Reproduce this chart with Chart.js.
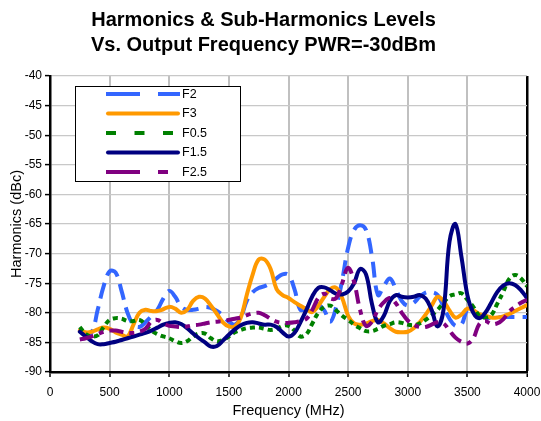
<!DOCTYPE html>
<html>
<head>
<meta charset="utf-8">
<script src="https://cdn.jsdelivr.net/npm/chart.js@4.4.1/dist/chart.umd.min.js"></script>
<style>
  html, body { margin: 0; padding: 0; background: #fff; }
  #wrap { width: 541px; height: 421px; position: relative; }
</style>
</head>
<body>
<div id="wrap"><canvas id="chartHarm"></canvas></div>
<script>
// frequency points (MHz)
const FREQ = [
  250,300,350,400,450,500,550,600,650,700,
  750,800,850,900,950,1000,1050,1100,1150,1200,
  1250,1300,1350,1400,1450,1500,1550,1600,1650,1700,
  1750,1800,1850,1900,1950,2000,2050,2100,2150,2200,
  2250,2300,2350,2400,2450,2500,2550,2600,2650,2700,
  2750,2800,2850,2900,2950,3000,3050,3100,3150,3200,
  3250,3300,3350,3400,3450,3500,3550,3600,3650,3700,
  3750,3800,3850,3900,3950,4000
];

// levels in dBc
const F2 = [
  -83,-83.5,-83.3,-79.5,-75.5,-73,-73.2,-76.3,-80,-82,
  -82.4,-81.6,-80.6,-79.5,-77.6,-76.3,-77.3,-79,-79.5,-79.5,
  -79.3,-79,-79.2,-79.7,-80.5,-81.5,-82,-80.8,-78,-76.5,
  -75.8,-75.5,-75,-74.2,-73.5,-73.6,-76,-79.5,-79.2,-78.5,
  -78.6,-79.6,-81.5,-79,-74.5,-69,-66,-65.2,-66,-70.5,
  -77,-75.5,-74.2,-76,-78,-78.8,-78.3,-77.3,-76.6,-76.5,
  -77,-79,-81,-82.2,-82,-79.5,-80,-80.5,-80.8,-80.9,
  -80.8,-80.7,-80.7,-80.7,-80.7,-80.7
];
const F3 = [
  -83,-83.3,-83.2,-82.8,-82.5,-82.7,-83.3,-83.7,-84,-82,
  -80,-79.5,-79.7,-79.7,-79.4,-79,-79.3,-80,-79.5,-78,
  -77.3,-77.6,-78.8,-80.2,-81.6,-82.3,-82.3,-80.8,-77,-73.5,
  -71,-71,-72.6,-76,-77,-77.5,-78.2,-78.8,-79.4,-79.9,
  -78.8,-77.3,-76,-75.8,-77.5,-80.5,-81.8,-82,-81.8,-81.4,
  -81.2,-81.8,-82.6,-83.2,-83.3,-83.2,-82.6,-81.6,-80.3,-78.8,
  -77.3,-78,-79.6,-80.8,-80.3,-79.3,-79.6,-80.2,-80.5,-80.8,
  -80.8,-80.6,-80.2,-79.7,-79.2,-78.7
];
const F05 = [
  -82.4,-83.6,-84,-83.8,-82.4,-81.2,-80.9,-81,-81.4,-81.4,
  -81.2,-82,-83,-83.6,-84,-84.3,-84.8,-85.1,-84.8,-84,
  -83.5,-83.5,-84.3,-84.8,-84.6,-84,-83.3,-82.9,-82.6,-82.5,
  -82.5,-82.7,-82.9,-82.7,-82.2,-82.2,-83,-84,-83.6,-81.8,
  -80,-79,-78.8,-79.6,-80.5,-81.2,-82,-82.6,-83.1,-83.1,
  -82.7,-82.2,-81.9,-81.6,-81.7,-82,-82.1,-81.8,-81.2,-80.4,
  -79.5,-78.3,-77.2,-76.9,-76.7,-77.8,-79,-80.5,-80.8,-80.4,
  -78.5,-76.5,-74.3,-73.6,-74.2,-75.5
];
const F15 = [
  -83.2,-84,-84.8,-85.3,-85.3,-85.1,-84.9,-84.6,-84.3,-84,
  -83.7,-83.4,-83,-82.5,-82,-81.7,-81.6,-81.9,-82.6,-83.5,
  -84.3,-85,-85.7,-85.6,-84.7,-83.7,-82.8,-82.1,-81.7,-81.6,
  -81.8,-82,-82,-82.4,-83.3,-84,-83.4,-81.6,-79.5,-77.2,
  -75.8,-75.7,-76.2,-76.8,-76.9,-76.4,-75,-72.6,-73.5,-78.5,
  -81.6,-80.5,-78,-77,-77.3,-77.4,-77.3,-77,-77.6,-79.5,
  -82.3,-79.5,-68,-65,-70.5,-77,-80,-80.9,-80,-78.3,
  -76.5,-75.4,-75,-75.3,-76.2,-77.5
];
const F25 = [
  -84.5,-84.3,-84,-83.6,-83.2,-83,-83,-83.2,-83.4,-83.4,
  -83.2,-82.7,-81.5,-81.2,-81.8,-82.2,-82.3,-82.4,-82.3,-82.1,
  -82,-81.8,-81.6,-81.5,-81.4,-81.2,-81,-80.8,-80.4,-80.1,
  -80,-80.4,-81,-81.5,-81.7,-81.7,-81.6,-81.4,-81,-79.5,
  -77.5,-76.8,-77.6,-77.5,-75,-72.4,-74.8,-79.5,-82.2,-81.5,
  -79.5,-78.2,-77.5,-78.4,-80,-81.3,-82,-82.4,-82.4,-82,
  -81.6,-81.8,-83,-84.2,-84.9,-85.2,-84.3,-81.9,-81.4,-81.9,
  -81.8,-81.1,-79.8,-79,-78.3,-77.8
];

const SERIES = ['F2','F3','F0.5','F1.5','F2.5'];
const X_TICKS = [0,500,1000,1500,2000,2500,3000,3500,4000];
const Y_TICKS = [-90,-85,-80,-75,-70,-65,-60,-55,-50,-45,-40];

const FONT = 'Liberation Sans, Arial, Helvetica, sans-serif';

function pts(vals) { return FREQ.map((f,i)=>({x:f, y:vals[i]})); }

// line look per series: colour, dash in plot, dash in legend
const STYLE = [
  {c:'#3366ff', dash:[16,8],        ldash:[34,18],        cap:'butt'},
  {c:'#ff9900', dash:[],            ldash:[],             cap:'round'},
  {c:'#008000', dash:[5,4],         ldash:[10,18.5],      cap:'butt'},
  {c:'#000080', dash:[],            ldash:[],             cap:'round'},
  {c:'#800080', dash:[14,6,5,6],    ldash:[34,18,10,18],  cap:'butt'}
];

// legend box sitting inside the plot, like the Excel one
const boxLegend = {
  id:'boxLegend',
  afterDraw(chart) {
    const ctx = chart.ctx;
    ctx.save();
    ctx.fillStyle = '#fff';
    ctx.fillRect(75.5, 86.5, 165, 95);
    ctx.strokeStyle = '#000';
    ctx.lineWidth = 1;
    ctx.strokeRect(75.5, 86.5, 165, 95);
    chart.data.datasets.forEach((ds,i)=>{
      const y = 94 + i*19.5;
      const st = STYLE[i];
      ctx.beginPath();
      ctx.setLineDash(st.ldash);
      ctx.lineCap = st.cap;
      ctx.strokeStyle = st.c;
      ctx.lineWidth = 4;
      ctx.moveTo(st.cap==='round'?108:106, y);
      ctx.lineTo(st.cap==='round'?178:180, y);
      ctx.stroke();
      ctx.setLineDash([]);
      ctx.fillStyle = '#000';
      ctx.font = '12.5px ' + FONT;
      ctx.textBaseline = 'middle';
      ctx.textAlign = 'left';
      ctx.fillText(ds.label, 182, y+0.5);
    });
    ctx.restore();
  }
};

const datasets = [F2,F3,F05,F15,F25].map((v,i)=>({
  label: SERIES[i],
  data: pts(v),
  borderColor: STYLE[i].c,
  backgroundColor: STYLE[i].c,
  borderWidth: 4,
  borderDash: STYLE[i].dash,
  borderCapStyle: STYLE[i].cap,
  pointRadius: 0,
  tension: 0.4,
  fill: false,
  order: 5 - i
}));

new Chart(document.getElementById('chartHarm'), {
  type:'line',
  data:{datasets},
  options:{
    responsive:true, maintainAspectRatio:false, animation:false,
    layout:{padding:{left:0, right:14, top:0, bottom:0}},
    plugins:{
      legend:{display:false},
      tooltip:{enabled:false},
      title:{display:true,
        text:['Harmonics & Sub-Harmonics Levels','Vs. Output Frequency PWR=-30dBm'],
        color:'#000', font:{family:FONT, size:20, weight:'bold', lineHeight:1.25},
        padding:{top:8, bottom:18}}
    },
    scales:{
      x:{type:'linear', min:0, max:4000,
        afterFit:s=>{ s.height = 49; s.paddingRight = 0; },
        afterBuildTicks:s=>{ s.ticks = X_TICKS.map(v=>({value:v})); },
        ticks:{color:'#000', font:{family:FONT, size:12}, padding:8, maxRotation:0,
          callback:v=>String(v)},
        grid:{color:c=>c.tick && c.tick.value===4000 ? '#000' : '#c0c0c0',
              lineWidth:c=>c.tick && c.tick.value===4000 ? 2.5 : 2,
              tickColor:'#000', tickLength:5, tickWidth:1.5},
        border:{color:'#000', width:2.5},
        title:{display:true, text:'Frequency (MHz)', color:'#000',
          font:{family:FONT, size:14.5}, padding:{top:0, bottom:1}}
      },
      y:{min:-90, max:-40,
        afterFit:s=>{ s.width = 50; },
        afterBuildTicks:s=>{ s.ticks = Y_TICKS.map(v=>({value:v})); },
        ticks:{color:'#000', font:{family:FONT, size:12}, padding:3,
          callback:v=>String(v)},
        grid:{color:'#c8c8c8', lineWidth:1.2, tickColor:'#000', tickLength:5, tickWidth:1.5},
        border:{color:'#000', width:2.5},
        title:{display:true, text:'Harmonics (dBc)', color:'#000',
          font:{family:FONT, size:14.5}, padding:{top:8, bottom:0}}
      }
    }
  },
  plugins:[boxLegend]
});
</script>
</body>
</html>
